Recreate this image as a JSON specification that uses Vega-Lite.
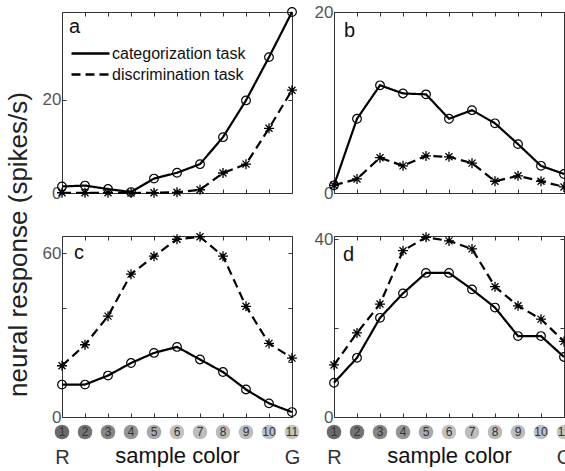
{
  "$schema": "https://vega.github.io/schema/vega-lite/v6.json",
  "padding": {"left": 4, "top": 2, "right": 0, "bottom": 0},
  "background": "white",
  "data": {"values": [
    {"panel": "a", "task": "categorization task", "color": 1, "rate": 1.4},
    {"panel": "a", "task": "categorization task", "color": 2, "rate": 1.6},
    {"panel": "a", "task": "categorization task", "color": 3, "rate": 0.85},
    {"panel": "a", "task": "categorization task", "color": 4, "rate": 0.2},
    {"panel": "a", "task": "categorization task", "color": 5, "rate": 3.1},
    {"panel": "a", "task": "categorization task", "color": 6, "rate": 4.35},
    {"panel": "a", "task": "categorization task", "color": 7, "rate": 6.2},
    {"panel": "a", "task": "categorization task", "color": 8, "rate": 12.0},
    {"panel": "a", "task": "categorization task", "color": 9, "rate": 19.9},
    {"panel": "a", "task": "categorization task", "color": 10, "rate": 29.2},
    {"panel": "a", "task": "categorization task", "color": 11, "rate": 38.9},
    {"panel": "a", "task": "discrimination task", "color": 1, "rate": 0.05},
    {"panel": "a", "task": "discrimination task", "color": 2, "rate": 0.05},
    {"panel": "a", "task": "discrimination task", "color": 3, "rate": 0.05},
    {"panel": "a", "task": "discrimination task", "color": 4, "rate": 0.0},
    {"panel": "a", "task": "discrimination task", "color": 5, "rate": 0.05},
    {"panel": "a", "task": "discrimination task", "color": 6, "rate": 0.15},
    {"panel": "a", "task": "discrimination task", "color": 7, "rate": 0.7},
    {"panel": "a", "task": "discrimination task", "color": 8, "rate": 4.3},
    {"panel": "a", "task": "discrimination task", "color": 9, "rate": 6.2},
    {"panel": "a", "task": "discrimination task", "color": 10, "rate": 13.9},
    {"panel": "a", "task": "discrimination task", "color": 11, "rate": 22.1},
    {"panel": "b", "task": "categorization task", "color": 1, "rate": 0.85},
    {"panel": "b", "task": "categorization task", "color": 2, "rate": 8.2},
    {"panel": "b", "task": "categorization task", "color": 3, "rate": 11.9},
    {"panel": "b", "task": "categorization task", "color": 4, "rate": 11.0},
    {"panel": "b", "task": "categorization task", "color": 5, "rate": 10.9},
    {"panel": "b", "task": "categorization task", "color": 6, "rate": 8.2},
    {"panel": "b", "task": "categorization task", "color": 7, "rate": 9.15},
    {"panel": "b", "task": "categorization task", "color": 8, "rate": 7.7},
    {"panel": "b", "task": "categorization task", "color": 9, "rate": 5.4},
    {"panel": "b", "task": "categorization task", "color": 10, "rate": 3.0},
    {"panel": "b", "task": "categorization task", "color": 11, "rate": 2.1},
    {"panel": "b", "task": "discrimination task", "color": 1, "rate": 0.85},
    {"panel": "b", "task": "discrimination task", "color": 2, "rate": 1.55},
    {"panel": "b", "task": "discrimination task", "color": 3, "rate": 3.9},
    {"panel": "b", "task": "discrimination task", "color": 4, "rate": 3.0},
    {"panel": "b", "task": "discrimination task", "color": 5, "rate": 4.1},
    {"panel": "b", "task": "discrimination task", "color": 6, "rate": 4.0},
    {"panel": "b", "task": "discrimination task", "color": 7, "rate": 3.3},
    {"panel": "b", "task": "discrimination task", "color": 8, "rate": 1.3},
    {"panel": "b", "task": "discrimination task", "color": 9, "rate": 1.9},
    {"panel": "b", "task": "discrimination task", "color": 10, "rate": 1.3},
    {"panel": "b", "task": "discrimination task", "color": 11, "rate": 0.67},
    {"panel": "c", "task": "categorization task", "color": 1, "rate": 11.9},
    {"panel": "c", "task": "categorization task", "color": 2, "rate": 11.9},
    {"panel": "c", "task": "categorization task", "color": 3, "rate": 15.2},
    {"panel": "c", "task": "categorization task", "color": 4, "rate": 19.8},
    {"panel": "c", "task": "categorization task", "color": 5, "rate": 23.5},
    {"panel": "c", "task": "categorization task", "color": 6, "rate": 25.7},
    {"panel": "c", "task": "categorization task", "color": 7, "rate": 21.1},
    {"panel": "c", "task": "categorization task", "color": 8, "rate": 16.5},
    {"panel": "c", "task": "categorization task", "color": 9, "rate": 10.1},
    {"panel": "c", "task": "categorization task", "color": 10, "rate": 5.0},
    {"panel": "c", "task": "categorization task", "color": 11, "rate": 1.8},
    {"panel": "c", "task": "discrimination task", "color": 1, "rate": 18.8},
    {"panel": "c", "task": "discrimination task", "color": 2, "rate": 26.5},
    {"panel": "c", "task": "discrimination task", "color": 3, "rate": 37.0},
    {"panel": "c", "task": "discrimination task", "color": 4, "rate": 52.4},
    {"panel": "c", "task": "discrimination task", "color": 5, "rate": 59.0},
    {"panel": "c", "task": "discrimination task", "color": 6, "rate": 65.2},
    {"panel": "c", "task": "discrimination task", "color": 7, "rate": 66.1},
    {"panel": "c", "task": "discrimination task", "color": 8, "rate": 59.0},
    {"panel": "c", "task": "discrimination task", "color": 9, "rate": 40.6},
    {"panel": "c", "task": "discrimination task", "color": 10, "rate": 27.0},
    {"panel": "c", "task": "discrimination task", "color": 11, "rate": 21.6},
    {"panel": "d", "task": "categorization task", "color": 1, "rate": 7.7},
    {"panel": "d", "task": "categorization task", "color": 2, "rate": 13.3},
    {"panel": "d", "task": "categorization task", "color": 3, "rate": 22.3},
    {"panel": "d", "task": "categorization task", "color": 4, "rate": 27.8},
    {"panel": "d", "task": "categorization task", "color": 5, "rate": 32.4},
    {"panel": "d", "task": "categorization task", "color": 6, "rate": 32.4},
    {"panel": "d", "task": "categorization task", "color": 7, "rate": 28.7},
    {"panel": "d", "task": "categorization task", "color": 8, "rate": 24.6},
    {"panel": "d", "task": "categorization task", "color": 9, "rate": 18.2},
    {"panel": "d", "task": "categorization task", "color": 10, "rate": 18.2},
    {"panel": "d", "task": "categorization task", "color": 11, "rate": 13.5},
    {"panel": "d", "task": "discrimination task", "color": 1, "rate": 11.7},
    {"panel": "d", "task": "discrimination task", "color": 2, "rate": 18.9},
    {"panel": "d", "task": "discrimination task", "color": 3, "rate": 25.4},
    {"panel": "d", "task": "discrimination task", "color": 4, "rate": 37.4},
    {"panel": "d", "task": "discrimination task", "color": 5, "rate": 40.4},
    {"panel": "d", "task": "discrimination task", "color": 6, "rate": 39.6},
    {"panel": "d", "task": "discrimination task", "color": 7, "rate": 37.8},
    {"panel": "d", "task": "discrimination task", "color": 8, "rate": 29.3},
    {"panel": "d", "task": "discrimination task", "color": 9, "rate": 25.0},
    {"panel": "d", "task": "discrimination task", "color": 10, "rate": 22.0},
    {"panel": "d", "task": "discrimination task", "color": 11, "rate": 17.0}
  ]},
  "concat": [
    {
      "width": 230, "height": 181,
      "transform": [{"filter": "datum.panel == 'a'"}],
      "resolve": {"axis": {"x": "independent", "y": "independent"}},
      "layer": [
        {
          "mark": {"type": "line", "color": "black", "strokeWidth": 2.2},
          "encoding": {
            "x": {"field": "color", "type": "quantitative", "scale": {"domain": [1, 11], "nice": false, "zero": false}, "axis": {"orient": "bottom", "values": [1,2,3,4,5,6,7,8,9,10,11], "labels": false, "title": null}},
            "y": {"field": "rate", "type": "quantitative", "scale": {"domain": [0, 38.9], "nice": false}, "axis": {"orient": "left", "values": [0, 20], "title": "neural response (spikes/s)", "titleX": -36, "titleY": 232, "titleAngle": 270, "titleBaseline": "alphabetic", "titleAlign": "center", "titleFontSize": 26, "titleColor": "#222", "titleFontWeight": "normal"}},
            "strokeDash": {"field": "task", "type": "nominal", "scale": {"domain": ["categorization task", "discrimination task"], "range": [[1, 0], [9, 5]]},
              "legend": {"orient": "none", "legendX": 17.5, "legendY": 30.5, "title": null, "symbolType": "M-2,0L2,0", "symbolSize": 361, "symbolStrokeWidth": 2.5, "symbolStrokeColor": "black", "symbolFillColor": "transparent", "labelFontSize": 16, "labelColor": "#111", "labelOffset": 10.5, "rowPadding": 2, "padding": 0}}
          }
        },
        {
          "transform": [{"filter": "datum.task == 'categorization task'"}],
          "mark": {"type": "point", "shape": "circle", "filled": false, "stroke": "black", "strokeWidth": 1.2, "size": 75, "opacity": 1},
          "encoding": {
            "x": {"field": "color", "type": "quantitative", "scale": {"domain": [1, 11], "nice": false, "zero": false}, "axis": {"orient": "top", "values": [1,2,3,4,5,6,7,8,9,10,11], "labels": false, "title": null}},
            "y": {"field": "rate", "type": "quantitative", "scale": {"domain": [0, 38.9], "nice": false}, "axis": {"orient": "right", "values": [0, 20], "labels": false, "title": null}}
          }
        },
        {
          "transform": [{"filter": "datum.task == 'discrimination task'"}],
          "mark": {"type": "point", "shape": "M-1,0L1,0M0,-1L0,1M-0.7,-0.7L0.7,0.7M-0.7,0.7L0.7,-0.7", "filled": false, "stroke": "black", "strokeWidth": 1.3, "size": 100, "opacity": 1},
          "encoding": {
            "x": {"field": "color", "type": "quantitative", "scale": {"domain": [1, 11], "nice": false, "zero": false}, "axis": null},
            "y": {"field": "rate", "type": "quantitative", "scale": {"domain": [0, 38.9], "nice": false}, "axis": null}
          }
        },
        {
          "transform": [{"filter": "datum.color == 1 && datum.task == 'categorization task'"}],
          "mark": {"type": "text", "text": "a", "align": "left", "baseline": "alphabetic", "fontSize": 20, "dx": 7, "dy": 21, "color": "#111"},
          "encoding": {
            "x": {"datum": 1, "type": "quantitative", "axis": null},
            "y": {"datum": 38.9, "type": "quantitative", "axis": null}
          }
        }
      ]
    },
    {
      "width": 230, "height": 181,
      "transform": [{"filter": "datum.panel == 'b'"}],
      "resolve": {"axis": {"x": "independent", "y": "independent"}},
      "layer": [
        {
          "mark": {"type": "line", "color": "black", "strokeWidth": 2.2},
          "encoding": {
            "x": {"field": "color", "type": "quantitative", "scale": {"domain": [1, 11], "nice": false, "zero": false}, "axis": {"orient": "bottom", "values": [1,2,3,4,5,6,7,8,9,10,11], "labels": false, "title": null}},
            "y": {"field": "rate", "type": "quantitative", "scale": {"domain": [0, 20], "nice": false}, "axis": {"orient": "left", "values": [0, 20], "title": null}},
            "strokeDash": {"field": "task", "type": "nominal", "scale": {"domain": ["categorization task", "discrimination task"], "range": [[1, 0], [9, 5]]}, "legend": null}
          }
        },
        {
          "transform": [{"filter": "datum.task == 'categorization task'"}],
          "mark": {"type": "point", "shape": "circle", "filled": false, "stroke": "black", "strokeWidth": 1.2, "size": 75, "opacity": 1},
          "encoding": {
            "x": {"field": "color", "type": "quantitative", "scale": {"domain": [1, 11], "nice": false, "zero": false}, "axis": {"orient": "top", "values": [1,2,3,4,5,6,7,8,9,10,11], "labels": false, "title": null}},
            "y": {"field": "rate", "type": "quantitative", "scale": {"domain": [0, 20], "nice": false}, "axis": {"orient": "right", "values": [0, 20], "labels": false, "title": null}}
          }
        },
        {
          "transform": [{"filter": "datum.task == 'discrimination task'"}],
          "mark": {"type": "point", "shape": "M-1,0L1,0M0,-1L0,1M-0.7,-0.7L0.7,0.7M-0.7,0.7L0.7,-0.7", "filled": false, "stroke": "black", "strokeWidth": 1.3, "size": 100, "opacity": 1},
          "encoding": {
            "x": {"field": "color", "type": "quantitative", "scale": {"domain": [1, 11], "nice": false, "zero": false}, "axis": null},
            "y": {"field": "rate", "type": "quantitative", "scale": {"domain": [0, 20], "nice": false}, "axis": null}
          }
        },
        {
          "transform": [{"filter": "datum.color == 1 && datum.task == 'categorization task'"}],
          "mark": {"type": "text", "text": "b", "align": "left", "baseline": "alphabetic", "fontSize": 20, "dx": 10, "dy": 25, "color": "#111"},
          "encoding": {
            "x": {"datum": 1, "type": "quantitative", "axis": null},
            "y": {"datum": 20, "type": "quantitative", "axis": null}
          }
        }
      ]
    },
    {
      "vconcat": [
        {
          "width": 230, "height": 181,
          "transform": [{"filter": "datum.panel == 'c'"}],
          "resolve": {"axis": {"x": "independent", "y": "independent"}},
          "layer": [
            {
              "mark": {"type": "line", "color": "black", "strokeWidth": 2.2},
              "encoding": {
                "x": {"field": "color", "type": "quantitative", "scale": {"domain": [1, 11], "nice": false, "zero": false}, "axis": {"orient": "bottom", "values": [1,2,3,4,5,6,7,8,9,10,11], "labels": false, "title": null}},
                "y": {"field": "rate", "type": "quantitative", "scale": {"domain": [0, 66.4], "nice": false}, "axis": {"orient": "left", "values": [0, 20, 40, 60], "labelExpr": "datum.value == 0 || datum.value == 60 ? datum.label : ''", "title": null}},
                "strokeDash": {"field": "task", "type": "nominal", "scale": {"domain": ["categorization task", "discrimination task"], "range": [[1, 0], [9, 5]]}, "legend": null}
              }
            },
            {
              "transform": [{"filter": "datum.task == 'categorization task'"}],
              "mark": {"type": "point", "shape": "circle", "filled": false, "stroke": "black", "strokeWidth": 1.2, "size": 75, "opacity": 1},
              "encoding": {
                "x": {"field": "color", "type": "quantitative", "scale": {"domain": [1, 11], "nice": false, "zero": false}, "axis": {"orient": "top", "values": [1,2,3,4,5,6,7,8,9,10,11], "labels": false, "title": null}},
                "y": {"field": "rate", "type": "quantitative", "scale": {"domain": [0, 66.4], "nice": false}, "axis": {"orient": "right", "values": [0, 20, 40, 60], "labels": false, "title": null}}
              }
            },
            {
              "transform": [{"filter": "datum.task == 'discrimination task'"}],
              "mark": {"type": "point", "shape": "M-1,0L1,0M0,-1L0,1M-0.7,-0.7L0.7,0.7M-0.7,0.7L0.7,-0.7", "filled": false, "stroke": "black", "strokeWidth": 1.3, "size": 100, "opacity": 1},
              "encoding": {
                "x": {"field": "color", "type": "quantitative", "scale": {"domain": [1, 11], "nice": false, "zero": false}, "axis": null},
                "y": {"field": "rate", "type": "quantitative", "scale": {"domain": [0, 66.4], "nice": false}, "axis": null}
              }
            },
            {
              "transform": [{"filter": "datum.color == 1 && datum.task == 'categorization task'"}],
              "mark": {"type": "text", "text": "c", "align": "left", "baseline": "alphabetic", "fontSize": 20, "dx": 12, "dy": 23, "color": "#111"},
              "encoding": {
                "x": {"datum": 1, "type": "quantitative", "axis": null},
                "y": {"datum": 66.4, "type": "quantitative", "axis": null}
              }
            }
          ]
        },
        {
          "width": 230, "height": 16,
          "view": {"stroke": null},
          "transform": [{"filter": "datum.panel == 'a' && datum.task == 'categorization task'"}],
          "layer": [
            {
              "mark": {"type": "point", "shape": "circle", "filled": true, "size": 215, "opacity": 1},
              "encoding": {
                "x": {"field": "color", "type": "quantitative", "scale": {"domain": [1, 11], "nice": false, "zero": false},
                  "axis": {"values": [1, 11], "labelExpr": "datum.value == 1 ? 'R' : 'G'", "labelFlush": false, "ticks": false, "domain": false, "labelFontSize": 20, "labelColor": "#333", "labelBaseline": "alphabetic", "labelPadding": 23, "title": "sample color", "titleFontSize": 22, "titleFontWeight": "normal", "titleColor": "#111", "titleBaseline": "alphabetic", "titleY": 22}},
                "color": {"field": "color", "type": "ordinal", "scale": {"domain": [1,2,3,4,5,6,7,8,9,10,11], "range": ["#6a6a6a", "#747474", "#858585", "#969696", "#a9a9a9", "#c1c1c1", "#bdbdbd", "#bababa", "#bcbcbc", "#c0c0c0", "#c4c4c4"]}, "legend": null}
              }
            },
            {
              "mark": {"type": "text", "fontSize": 12, "color": "#333"},
              "encoding": {
                "x": {"field": "color", "type": "quantitative", "scale": {"domain": [1, 11], "nice": false, "zero": false}},
                "text": {"field": "color", "type": "quantitative"}
              }
            }
          ]
        }
      ],
      "spacing": 7,
      "bounds": "flush"
    },
    {
      "vconcat": [
        {
          "width": 230, "height": 181,
          "transform": [{"filter": "datum.panel == 'd'"}],
          "resolve": {"axis": {"x": "independent", "y": "independent"}},
          "layer": [
            {
              "mark": {"type": "line", "color": "black", "strokeWidth": 2.2},
              "encoding": {
                "x": {"field": "color", "type": "quantitative", "scale": {"domain": [1, 11], "nice": false, "zero": false}, "axis": {"orient": "bottom", "values": [1,2,3,4,5,6,7,8,9,10,11], "labels": false, "title": null}},
                "y": {"field": "rate", "type": "quantitative", "scale": {"domain": [0, 40.7], "nice": false}, "axis": {"orient": "left", "values": [0, 20, 40], "labelExpr": "datum.value == 20 ? '' : datum.label", "title": null}},
                "strokeDash": {"field": "task", "type": "nominal", "scale": {"domain": ["categorization task", "discrimination task"], "range": [[1, 0], [9, 5]]}, "legend": null}
              }
            },
            {
              "transform": [{"filter": "datum.task == 'categorization task'"}],
              "mark": {"type": "point", "shape": "circle", "filled": false, "stroke": "black", "strokeWidth": 1.2, "size": 75, "opacity": 1},
              "encoding": {
                "x": {"field": "color", "type": "quantitative", "scale": {"domain": [1, 11], "nice": false, "zero": false}, "axis": {"orient": "top", "values": [1,2,3,4,5,6,7,8,9,10,11], "labels": false, "title": null}},
                "y": {"field": "rate", "type": "quantitative", "scale": {"domain": [0, 40.7], "nice": false}, "axis": {"orient": "right", "values": [0, 20, 40], "labels": false, "title": null}}
              }
            },
            {
              "transform": [{"filter": "datum.task == 'discrimination task'"}],
              "mark": {"type": "point", "shape": "M-1,0L1,0M0,-1L0,1M-0.7,-0.7L0.7,0.7M-0.7,0.7L0.7,-0.7", "filled": false, "stroke": "black", "strokeWidth": 1.3, "size": 100, "opacity": 1},
              "encoding": {
                "x": {"field": "color", "type": "quantitative", "scale": {"domain": [1, 11], "nice": false, "zero": false}, "axis": null},
                "y": {"field": "rate", "type": "quantitative", "scale": {"domain": [0, 40.7], "nice": false}, "axis": null}
              }
            },
            {
              "transform": [{"filter": "datum.color == 1 && datum.task == 'categorization task'"}],
              "mark": {"type": "text", "text": "d", "align": "left", "baseline": "alphabetic", "fontSize": 20, "dx": 9, "dy": 25, "color": "#111"},
              "encoding": {
                "x": {"datum": 1, "type": "quantitative", "axis": null},
                "y": {"datum": 40.7, "type": "quantitative", "axis": null}
              }
            }
          ]
        },
        {
          "width": 230, "height": 16,
          "view": {"stroke": null},
          "transform": [{"filter": "datum.panel == 'a' && datum.task == 'categorization task'"}],
          "layer": [
            {
              "mark": {"type": "point", "shape": "circle", "filled": true, "size": 215, "opacity": 1},
              "encoding": {
                "x": {"field": "color", "type": "quantitative", "scale": {"domain": [1, 11], "nice": false, "zero": false},
                  "axis": {"values": [1, 11], "labelExpr": "datum.value == 1 ? 'R' : 'G'", "labelFlush": false, "ticks": false, "domain": false, "labelFontSize": 20, "labelColor": "#333", "labelBaseline": "alphabetic", "labelPadding": 23, "title": "sample color", "titleFontSize": 22, "titleFontWeight": "normal", "titleColor": "#111", "titleBaseline": "alphabetic", "titleY": 22}},
                "color": {"field": "color", "type": "ordinal", "scale": {"domain": [1,2,3,4,5,6,7,8,9,10,11], "range": ["#6a6a6a", "#747474", "#858585", "#969696", "#a9a9a9", "#c1c1c1", "#bdbdbd", "#bababa", "#bcbcbc", "#c0c0c0", "#c4c4c4"]}, "legend": null}
              }
            },
            {
              "mark": {"type": "text", "fontSize": 12, "color": "#333"},
              "encoding": {
                "x": {"field": "color", "type": "quantitative", "scale": {"domain": [1, 11], "nice": false, "zero": false}},
                "text": {"field": "color", "type": "quantitative"}
              }
            }
          ]
        }
      ],
      "spacing": 7,
      "bounds": "flush"
    }
  ],
  "columns": 2,
  "spacing": {"row": 43, "column": 42},
  "bounds": "flush",
  "config": {
    "font": "Liberation Sans",
    "view": {"stroke": "#333", "strokeWidth": 1},
    "axis": {"grid": false, "domain": false, "ticks": true, "tickColor": "#333", "tickSize": -4, "tickWidth": 1, "labelPadding": 5, "labelColor": "#555", "labelFontSize": 17, "titleFontWeight": "normal"}
  }
}
